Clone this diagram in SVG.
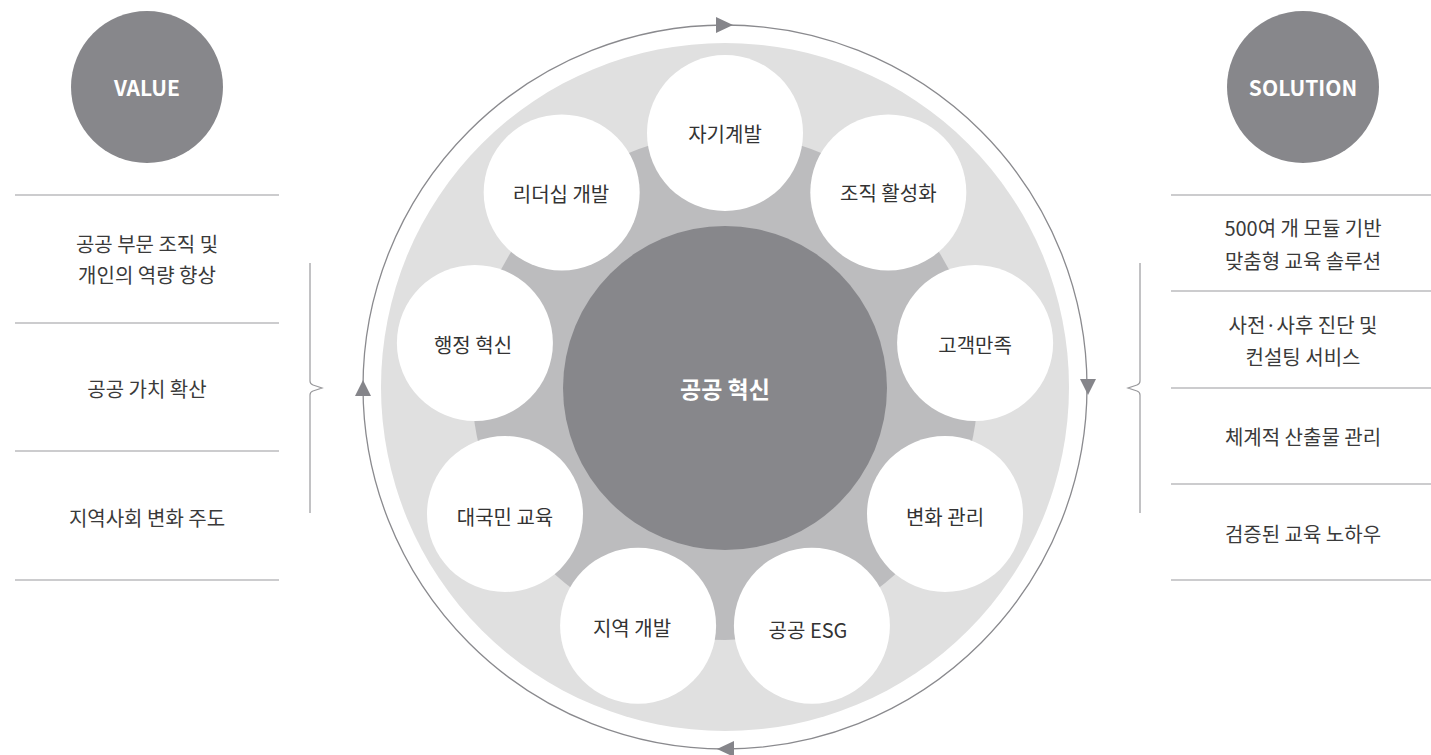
<svg xmlns="http://www.w3.org/2000/svg" width="1431" height="755" viewBox="0 0 1431 755">
<style>
text{font-family:"Noto Sans CJK KR","Noto Sans",sans-serif;text-anchor:middle;dominant-baseline:central}
.lbl{font-size:20px;fill:#333333}
.side{font-size:20px;fill:#3a3a3a}
.head{font-size:21px;font-weight:700;fill:#ffffff}
.node{fill:#ffffff}
.rule{stroke:#9a9a9d;stroke-width:1.2;fill:none}
.arc{stroke:#8a8a8e;stroke-width:1.3;fill:none}
.arr{fill:#85858a}
</style>
<rect width="1431" height="755" fill="#ffffff"/>
<g id="rings">
<circle cx="725" cy="387" r="344" fill="#e0e0e0"/>
<circle cx="725" cy="387" r="253" fill="#bcbcbe"/>
</g>
<g id="connectors">
<circle class="arc" cx="725" cy="387" r="362"/>
<path class="arr" d="M716,17 L733,25 L716,33 Z"/>
<path class="arr" d="M1080,379 L1096,379 L1088,395 Z"/>
<path class="arr" d="M734,741 L717,749 L734,757 Z"/>
<path class="arr" d="M355,396 L371,396 L363,380 Z"/>
<path class="rule" d="M310,263 L310,381 Q310,384 313,385 L322,388 L313,391 Q310,392 310,395 L310,513"/>
<path class="rule" d="M1140,263 L1140,381 Q1140,384 1137,385 L1128,388 L1137,391 Q1140,392 1140,395 L1140,513"/>
</g>
<g id="center">
<circle cx="725" cy="388" r="162" fill="#87878b"/>
<text class="head" x="725" y="388" style="font-size:23px">공공 혁신</text>
</g>
<g id="n1"><circle class="node" cx="725" cy="133" r="78"/><text class="lbl" x="725" y="133">자기계발</text></g>
<g id="n2"><circle class="node" cx="888.3" cy="192.4" r="78"/><text class="lbl" x="888.3" y="192.4">조직 활성화</text></g>
<g id="n3"><circle class="node" cx="975.1" cy="342.9" r="78"/><text class="lbl" x="975.1" y="344">고객만족</text></g>
<g id="n4"><circle class="node" cx="945" cy="514" r="78"/><text class="lbl" x="945" y="516">변화 관리</text></g>
<g id="n5"><circle class="node" cx="811.9" cy="625.7" r="78"/><text class="lbl" x="808" y="629">공공 ESG</text></g>
<g id="n6"><circle class="node" cx="638.1" cy="625.7" r="78"/><text class="lbl" x="632" y="627">지역 개발</text></g>
<g id="n7"><circle class="node" cx="505" cy="514" r="78"/><text class="lbl" x="505" y="516">대국민 교육</text></g>
<g id="n8"><circle class="node" cx="474.9" cy="342.9" r="78"/><text class="lbl" x="473" y="344">행정 혁신</text></g>
<g id="n9"><circle class="node" cx="561.7" cy="192.4" r="78"/><text class="lbl" x="561" y="193">리더십 개발</text></g>
<g id="value">
<circle cx="147" cy="87" r="76" fill="#87878b"/>
<text class="head" x="147" y="87">VALUE</text>
<line class="rule" x1="15" y1="195" x2="279" y2="195"/>
<text class="side" x="147" y="243">공공 부문 조직 및</text>
<text class="side" x="147" y="274">개인의 역량 향상</text>
<line class="rule" x1="15" y1="323" x2="279" y2="323"/>
<text class="side" x="147" y="388">공공 가치 확산</text>
<line class="rule" x1="15" y1="451" x2="279" y2="451"/>
<text class="side" x="147" y="517">지역사회 변화 주도</text>
<line class="rule" x1="15" y1="580" x2="279" y2="580"/>
</g>
<g id="solution">
<circle cx="1303" cy="87" r="76" fill="#87878b"/>
<text class="head" x="1303" y="87">SOLUTION</text>
<line class="rule" x1="1171" y1="195" x2="1431" y2="195"/>
<text class="side" x="1303" y="227">500여 개 모듈 기반</text>
<text class="side" x="1303" y="260">맞춤형 교육 솔루션</text>
<line class="rule" x1="1171" y1="291" x2="1431" y2="291"/>
<text class="side" x="1303" y="324">사전·사후 진단 및</text>
<text class="side" x="1303" y="356">컨설팅 서비스</text>
<line class="rule" x1="1171" y1="388" x2="1431" y2="388"/>
<text class="side" x="1303" y="436">체계적 산출물 관리</text>
<line class="rule" x1="1171" y1="484" x2="1431" y2="484"/>
<text class="side" x="1303" y="533">검증된 교육 노하우</text>
<line class="rule" x1="1171" y1="580" x2="1431" y2="580"/>
</g>
</svg>
